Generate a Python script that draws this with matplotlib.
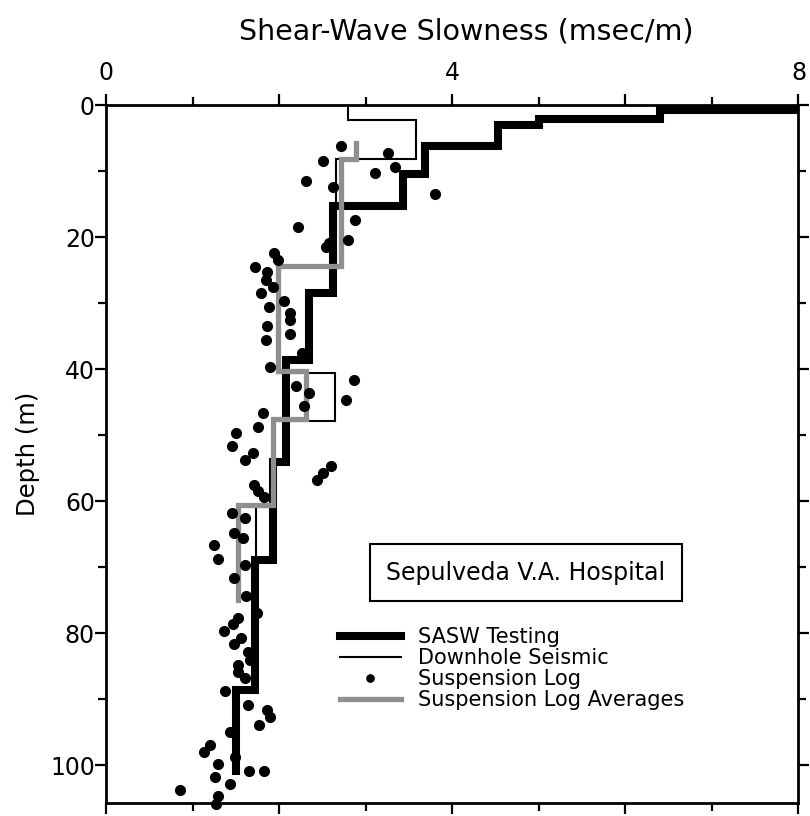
import matplotlib.pyplot as plt
from matplotlib.ticker import MultipleLocator, FixedLocator

plt.rcParams['font.family'] = ['DejaVu Sans']

# SASW testing profile (slowness msec/m, depth m), step corners
sasw_slow = [10.0, 10.0, 6.4, 6.4, 5.0, 5.0, 4.53, 4.53, 3.69, 3.69, 3.43, 3.43,
             2.62, 2.62, 2.35, 2.35, 2.08, 2.08, 1.93, 1.93, 1.72, 1.72, 1.50, 1.50]
sasw_depth = [0.0, 0.7, 0.7, 2.0, 2.0, 3.0, 3.0, 6.2, 6.2, 10.4, 10.4, 15.3,
              15.3, 28.5, 28.5, 38.6, 38.6, 54.0, 54.0, 68.9, 68.9, 88.6, 88.6, 100.9]

# Downhole seismic profile
dh_slow = [2.80, 2.80, 3.58, 3.58, 2.66, 2.66, 1.99, 1.99, 2.64, 2.64, 1.93, 1.93,
           1.73, 1.73, 1.50, 1.50]
dh_depth = [0.0, 2.15, 2.15, 8.2, 8.2, 24.3, 24.3, 40.6, 40.6, 47.8, 47.8, 60.8,
            60.8, 88.6, 88.6, 100.0]

# Suspension log averages
avg_slow = [2.89, 2.89, 2.72, 2.72, 1.99, 1.99, 2.31, 2.31, 1.93, 1.93, 1.53, 1.53]
avg_depth = [5.7, 8.2, 8.2, 24.3, 24.3, 40.3, 40.3, 47.5, 47.5, 60.6, 60.6, 75.0]

# Suspension log points
susp_slow = [2.71, 2.51, 3.26, 3.34, 3.11, 2.31, 2.62, 3.80, 2.88, 2.22, 2.79, 2.58,
             2.54, 1.94, 1.99, 1.72, 1.86, 1.85, 1.79, 1.93, 1.88, 2.06, 2.12, 2.12,
             1.86, 2.12, 1.85, 2.26, 1.90, 2.87, 2.19, 2.35, 2.77, 2.29, 1.81, 1.75,
             1.50, 1.46, 1.70, 1.61, 2.60, 2.51, 2.44, 1.71, 1.75, 1.82, 1.46, 1.60,
             1.48, 1.58, 1.25, 1.29, 1.60, 1.48, 1.62, 1.74, 1.52, 1.47, 1.36, 1.56,
             1.48, 1.64, 1.66, 1.53, 1.52, 1.60, 1.37, 1.64, 1.86, 1.89, 1.77, 1.43,
             1.49, 1.20, 1.13, 1.29, 1.65, 1.82, 1.26, 1.43, 0.86, 1.29, 1.27]
susp_depth = [6.2, 8.4, 7.2, 9.3, 10.3, 11.4, 12.4, 13.4, 17.3, 18.5, 20.4, 20.9,
              21.5, 22.4, 23.4, 24.5, 25.3, 26.4, 28.5, 27.5, 30.6, 29.6, 31.5, 32.5,
              33.5, 34.6, 35.5, 37.5, 39.6, 41.6, 42.5, 43.6, 44.6, 45.5, 46.6, 48.7,
              49.7, 51.6, 52.6, 53.7, 54.7, 55.7, 56.7, 57.5, 58.4, 59.4, 61.7, 62.5,
              64.8, 65.6, 66.6, 68.7, 69.6, 71.6, 74.4, 76.9, 77.7, 78.6, 79.7, 80.7,
              81.6, 82.8, 84.0, 84.8, 85.8, 86.8, 88.8, 90.8, 91.6, 92.7, 93.9, 94.9,
              98.7, 96.9, 97.9, 99.8, 100.9, 100.9, 101.8, 102.8, 103.8, 104.7, 105.8]

fig = plt.figure(figsize=(8.1, 8.16), dpi=100)
ax = fig.add_axes([0.1309, 0.0159, 0.8549, 0.8550])

ax.plot(sasw_slow, sasw_depth, color='black', lw=5.8, solid_joinstyle='miter',
        label='SASW Testing', zorder=3)
ax.plot(dh_slow, dh_depth, color='black', lw=1.5, solid_joinstyle='miter',
        label='Downhole Seismic', zorder=2)
ax.plot(susp_slow, susp_depth, 'o', color='black', ms=7, label='Suspension Log',
        clip_on=False, zorder=5)
ax.plot(avg_slow, avg_depth, color='#8f8f8f', lw=3.8, solid_joinstyle='miter',
        label='Suspension Log Averages', zorder=4)

ax.set_xlim(0, 8)
ax.set_ylim(105.7, 0)

ax.xaxis.tick_top()
ax.xaxis.set_label_position('top')
ax.xaxis.set_major_locator(FixedLocator([0, 2, 4, 6, 8]))
ax.xaxis.set_minor_locator(MultipleLocator(1))
ax.set_xticklabels(['0', '', '4', '', '8'])
ax.yaxis.set_major_locator(MultipleLocator(20))
ax.yaxis.set_minor_locator(MultipleLocator(10))

ax.tick_params(which='both', direction='out', top=True, bottom=True, left=True,
               right=True, labelsize=17, width=1.6)
ax.tick_params(which='major', length=8)
ax.tick_params(which='minor', length=5.5)
ax.tick_params(axis='x', pad=7)
ax.tick_params(axis='y', pad=0)
for sp in ax.spines.values():
    sp.set_linewidth(2)

ax.set_xlabel('Shear-Wave Slowness (msec/m)', fontsize=20.5)
ax.xaxis.set_label_coords(0.52, 1.095)
ax.set_ylabel('Depth (m)', fontsize=17.5)
ax.yaxis.set_label_coords(-0.095, 0.5)

ax.text(0.606, 0.330, 'Sepulveda V.A. Hospital', transform=ax.transAxes,
        ha='center', va='center', fontsize=17,
        bbox=dict(boxstyle='square,pad=0.7', fc='white', ec='black', lw=1.5))

ax.legend(loc='upper left', bbox_to_anchor=(0.338, 0.252), frameon=False,
          fontsize=15, handlelength=2.9, handletextpad=0.85, labelspacing=0.05,
          markerscale=0.75, borderpad=0, borderaxespad=0)

fig.savefig('out.png', dpi=100)
